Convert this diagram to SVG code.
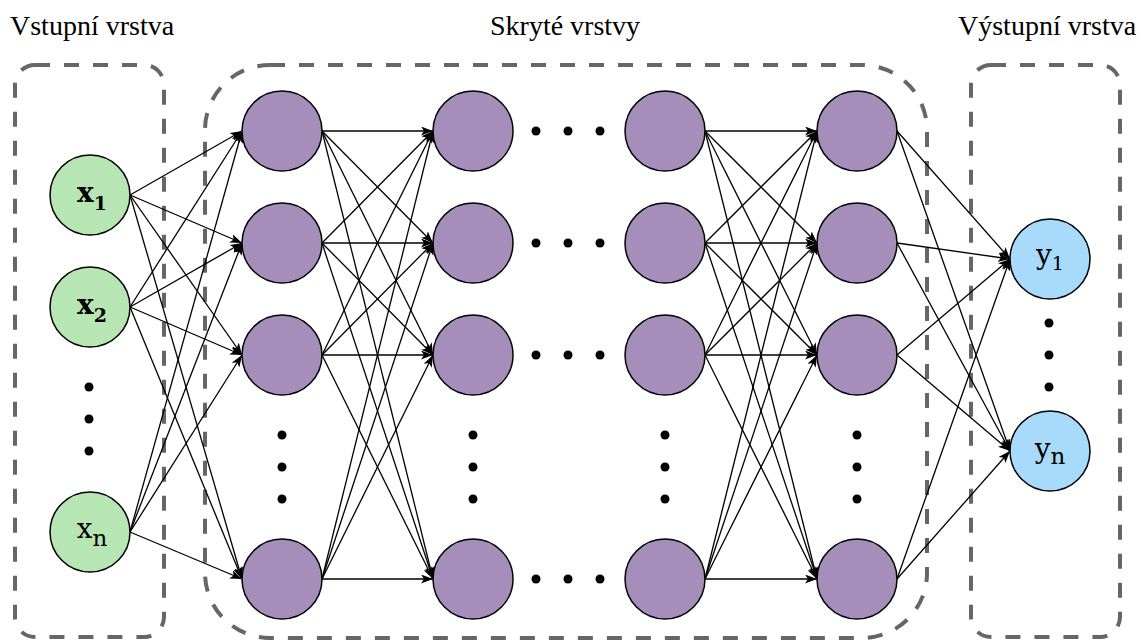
<svg xmlns="http://www.w3.org/2000/svg" width="1143" height="641" viewBox="0 0 1143 641">
  <style>
    .title { font-family: 'Liberation Serif', 'DejaVu Serif', serif; font-size: 28px; fill: #000; }
    .box { fill: none; stroke: #666; stroke-width: 4; stroke-dasharray: 15 14; }
    .e { stroke: #000; stroke-width: 1.3; fill: none; marker-end: url(#arrow); }
    .in { fill: #b7e6b4; stroke: #000; stroke-width: 1.5; }
    .hid { fill: #a58fba; stroke: #000; stroke-width: 1.5; }
    .out { fill: #a8dafc; stroke: #000; stroke-width: 1.5; }
    .lbl { font-family: 'DejaVu Serif', 'Liberation Serif', serif; font-size: 28px; fill: #000; text-anchor: middle; }
    .bold { font-weight: bold; }
    .dot { fill: #000; }
  </style>
  <defs>
    <marker id="arrow" markerUnits="userSpaceOnUse" viewBox="0 0 12 9" markerWidth="12" markerHeight="9" refX="12" refY="4.5" orient="auto">
      <path d="M0,0 L12,4.5 L0,9 L3,4.5 Z" fill="#000"/>
    </marker>
  </defs>

  <!-- layer titles -->
  <text class="title" x="10" y="35">Vstupní vrstva</text>
  <text class="title" x="490" y="35">Skryté vrstvy</text>
  <text class="title" x="958" y="35">Výstupní vrstva</text>

  <!-- dashed layer frames -->
  <g id="frames">
    <rect class="box" x="15" y="65" width="149" height="572" rx="20"/>
    <rect class="box" x="205" y="65" width="722" height="573" rx="65"/>
    <rect class="box" x="971" y="65" width="149" height="572" rx="20"/>
  </g>

  <!-- connectors -->
  <g id="connectors">
    <!-- input -> hidden 1 -->
    <line class="e" x1="130" y1="195" x2="242" y2="131"/>
    <line class="e" x1="130" y1="195" x2="242" y2="243"/>
    <line class="e" x1="130" y1="195" x2="242" y2="355"/>
    <line class="e" x1="130" y1="195" x2="242" y2="579"/>
    <line class="e" x1="130" y1="307" x2="242" y2="131"/>
    <line class="e" x1="130" y1="307" x2="242" y2="243"/>
    <line class="e" x1="130" y1="307" x2="242" y2="355"/>
    <line class="e" x1="130" y1="307" x2="242" y2="579"/>
    <line class="e" x1="130" y1="532" x2="242" y2="131"/>
    <line class="e" x1="130" y1="532" x2="242" y2="243"/>
    <line class="e" x1="130" y1="532" x2="242" y2="355"/>
    <line class="e" x1="130" y1="532" x2="242" y2="579"/>
    <!-- hidden 1 -> hidden 2 -->
    <line class="e" x1="322" y1="131" x2="433" y2="131"/>
    <line class="e" x1="322" y1="131" x2="433" y2="243"/>
    <line class="e" x1="322" y1="131" x2="433" y2="355"/>
    <line class="e" x1="322" y1="131" x2="433" y2="579"/>
    <line class="e" x1="322" y1="243" x2="433" y2="131"/>
    <line class="e" x1="322" y1="243" x2="433" y2="243"/>
    <line class="e" x1="322" y1="243" x2="433" y2="355"/>
    <line class="e" x1="322" y1="243" x2="433" y2="579"/>
    <line class="e" x1="322" y1="355" x2="433" y2="131"/>
    <line class="e" x1="322" y1="355" x2="433" y2="243"/>
    <line class="e" x1="322" y1="355" x2="433" y2="355"/>
    <line class="e" x1="322" y1="355" x2="433" y2="579"/>
    <line class="e" x1="322" y1="579" x2="433" y2="131"/>
    <line class="e" x1="322" y1="579" x2="433" y2="243"/>
    <line class="e" x1="322" y1="579" x2="433" y2="355"/>
    <line class="e" x1="322" y1="579" x2="433" y2="579"/>
    <!-- hidden 3 -> hidden 4 -->
    <line class="e" x1="705" y1="131" x2="817" y2="131"/>
    <line class="e" x1="705" y1="131" x2="817" y2="243"/>
    <line class="e" x1="705" y1="131" x2="817" y2="355"/>
    <line class="e" x1="705" y1="131" x2="817" y2="579"/>
    <line class="e" x1="705" y1="243" x2="817" y2="131"/>
    <line class="e" x1="705" y1="243" x2="817" y2="243"/>
    <line class="e" x1="705" y1="243" x2="817" y2="355"/>
    <line class="e" x1="705" y1="243" x2="817" y2="579"/>
    <line class="e" x1="705" y1="355" x2="817" y2="131"/>
    <line class="e" x1="705" y1="355" x2="817" y2="243"/>
    <line class="e" x1="705" y1="355" x2="817" y2="355"/>
    <line class="e" x1="705" y1="355" x2="817" y2="579"/>
    <line class="e" x1="705" y1="579" x2="817" y2="131"/>
    <line class="e" x1="705" y1="579" x2="817" y2="243"/>
    <line class="e" x1="705" y1="579" x2="817" y2="355"/>
    <line class="e" x1="705" y1="579" x2="817" y2="579"/>
    <!-- hidden 4 -> output -->
    <line class="e" x1="897" y1="131" x2="1010" y2="259"/>
    <line class="e" x1="897" y1="131" x2="1010" y2="451"/>
    <line class="e" x1="897" y1="243" x2="1010" y2="259"/>
    <line class="e" x1="897" y1="243" x2="1010" y2="451"/>
    <line class="e" x1="897" y1="355" x2="1010" y2="259"/>
    <line class="e" x1="897" y1="355" x2="1010" y2="451"/>
    <line class="e" x1="897" y1="579" x2="1010" y2="259"/>
    <line class="e" x1="897" y1="579" x2="1010" y2="451"/>
  </g>

  <!-- input layer -->
  <g id="x1"><circle class="in" cx="90" cy="195" r="40"/><text class="lbl bold" x="92" y="202">x<tspan font-size="19" dy="8">1</tspan></text></g>
  <g id="x2"><circle class="in" cx="90" cy="307" r="40"/><text class="lbl bold" x="92" y="314">x<tspan font-size="19" dy="8">2</tspan></text></g>
  <g id="xn"><circle class="in" cx="90" cy="532" r="40"/><text class="lbl" x="92" y="538">x<tspan font-size="23" dy="8">n</tspan></text></g>
  <g id="input-dots">
    <circle class="dot" cx="89" cy="387" r="4.5"/>
    <circle class="dot" cx="89" cy="419" r="4.5"/>
    <circle class="dot" cx="89" cy="451" r="4.5"/>
  </g>

  <!-- hidden layer 1 -->
  <g id="h1-1"><circle class="hid" cx="282" cy="131" r="40"/></g>
  <g id="h1-2"><circle class="hid" cx="282" cy="243" r="40"/></g>
  <g id="h1-3"><circle class="hid" cx="282" cy="355" r="40"/></g>
  <g id="h1-4"><circle class="hid" cx="282" cy="579" r="40"/></g>
  <!-- hidden layer 2 -->
  <g id="h2-1"><circle class="hid" cx="473" cy="131" r="40"/></g>
  <g id="h2-2"><circle class="hid" cx="473" cy="243" r="40"/></g>
  <g id="h2-3"><circle class="hid" cx="473" cy="355" r="40"/></g>
  <g id="h2-4"><circle class="hid" cx="473" cy="579" r="40"/></g>
  <!-- hidden layer 3 -->
  <g id="h3-1"><circle class="hid" cx="665" cy="131" r="40"/></g>
  <g id="h3-2"><circle class="hid" cx="665" cy="243" r="40"/></g>
  <g id="h3-3"><circle class="hid" cx="665" cy="355" r="40"/></g>
  <g id="h3-4"><circle class="hid" cx="665" cy="579" r="40"/></g>
  <!-- hidden layer 4 -->
  <g id="h4-1"><circle class="hid" cx="857" cy="131" r="40"/></g>
  <g id="h4-2"><circle class="hid" cx="857" cy="243" r="40"/></g>
  <g id="h4-3"><circle class="hid" cx="857" cy="355" r="40"/></g>
  <g id="h4-4"><circle class="hid" cx="857" cy="579" r="40"/></g>

  <!-- ellipsis dots inside the hidden layers -->
  <g id="hidden-dots">
    <circle class="dot" cx="282" cy="435" r="4.5"/><circle class="dot" cx="282" cy="467" r="4.5"/><circle class="dot" cx="282" cy="499" r="4.5"/>
    <circle class="dot" cx="473" cy="435" r="4.5"/><circle class="dot" cx="473" cy="467" r="4.5"/><circle class="dot" cx="473" cy="499" r="4.5"/>
    <circle class="dot" cx="665" cy="435" r="4.5"/><circle class="dot" cx="665" cy="467" r="4.5"/><circle class="dot" cx="665" cy="499" r="4.5"/>
    <circle class="dot" cx="857" cy="435" r="4.5"/><circle class="dot" cx="857" cy="467" r="4.5"/><circle class="dot" cx="857" cy="499" r="4.5"/>
    <circle class="dot" cx="536" cy="131" r="4.5"/><circle class="dot" cx="568" cy="131" r="4.5"/><circle class="dot" cx="600" cy="131" r="4.5"/>
    <circle class="dot" cx="536" cy="243" r="4.5"/><circle class="dot" cx="568" cy="243" r="4.5"/><circle class="dot" cx="600" cy="243" r="4.5"/>
    <circle class="dot" cx="536" cy="355" r="4.5"/><circle class="dot" cx="568" cy="355" r="4.5"/><circle class="dot" cx="600" cy="355" r="4.5"/>
    <circle class="dot" cx="536" cy="579" r="4.5"/><circle class="dot" cx="568" cy="579" r="4.5"/><circle class="dot" cx="600" cy="579" r="4.5"/>
  </g>

  <!-- output layer -->
  <g id="y1"><circle class="out" cx="1050" cy="259" r="40"/><text class="lbl" x="1050" y="264">y<tspan font-size="19" dy="6">1</tspan></text></g>
  <g id="yn"><circle class="out" cx="1050" cy="451" r="40"/><text class="lbl" x="1050" y="458">y<tspan font-size="23" dy="6">n</tspan></text></g>
  <g id="output-dots">
    <circle class="dot" cx="1049" cy="323" r="4.5"/>
    <circle class="dot" cx="1049" cy="355" r="4.5"/>
    <circle class="dot" cx="1049" cy="387" r="4.5"/>
  </g>
</svg>
